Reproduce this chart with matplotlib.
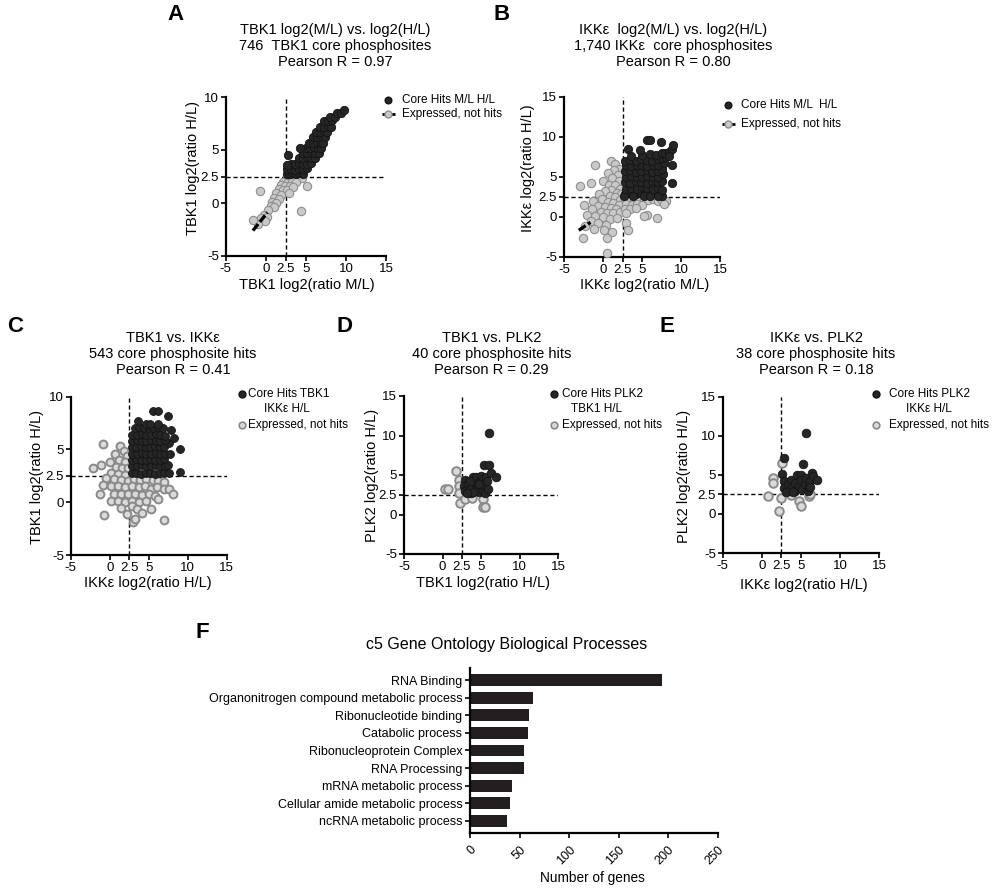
import numpy as np
import matplotlib
matplotlib.use('Agg')
import matplotlib.pyplot as plt
from matplotlib.lines import Line2D

plt.rcParams['font.family'] = ['Liberation Sans', 'DejaVu Sans']
plt.rcParams['axes.unicode_minus'] = False

W, H = 996, 891

# ---- panel A: TBK1 M/L vs H/L ----
a_hits = [(2.6, 2.7), (3.0, 2.7), (3.4, 2.8), (3.8, 2.7), (4.2, 2.8), (4.6, 2.7),
          (2.7, 3.2), (3.2, 3.2), (3.7, 3.1), (4.2, 3.2), (4.7, 3.2), (5.1, 3.3),
          (3.2, 3.7), (3.7, 3.7), (4.2, 3.8), (4.7, 3.7), (5.2, 3.7), (5.6, 3.8),
          (4.2, 4.2), (4.7, 4.2), (5.2, 4.3), (5.7, 4.2), (6.1, 4.2),
          (4.6, 4.7), (5.1, 4.7), (5.6, 4.8), (6.1, 4.7), (6.6, 4.7),
          (5.0, 5.2), (5.5, 5.2), (6.0, 5.3), (6.5, 5.2), (6.9, 5.2),
          (5.4, 5.7), (5.9, 5.7), (6.4, 5.8), (6.9, 5.7), (7.2, 5.7),
          (5.9, 6.2), (6.4, 6.2), (6.9, 6.3), (7.4, 6.2),
          (6.3, 6.7), (6.8, 6.7), (7.3, 6.8), (7.7, 6.7),
          (6.8, 7.2), (7.3, 7.2), (7.8, 7.3), (8.1, 7.2),
          (7.3, 7.7), (7.8, 7.7), (8.3, 7.8), (8.0, 8.1), (8.6, 8.1),
          (8.9, 8.5), (9.4, 8.5), (9.7, 8.8), (2.8, 4.5), (4.3, 5.2), (2.6, 3.6)]
a_other = [(2.6, 2.3), (3.0, 2.3), (3.5, 2.4), (4.0, 2.4), (4.5, 2.4), (2.2, 2.0),
           (2.7, 1.9), (3.3, 2.0), (3.8, 2.0), (1.9, 1.7), (2.4, 1.6), (3.0, 1.6),
           (1.6, 1.3), (2.1, 1.2), (2.7, 1.2), (1.3, 0.9), (1.9, 0.8), (1.0, 0.5),
           (1.6, 0.4), (0.8, 0.1), (1.3, 0.0), (0.6, -0.3), (1.0, -0.4), (0.3, -0.7),
           (-0.2, -1.1), (0.1, -1.3), (-0.6, -1.4), (-0.1, -1.7), (-1.0, -2.0),
           (-1.6, -1.6), (-0.7, 1.1), (5.2, 1.6), (4.4, -0.8), (3.4, 1.5), (2.9, 0.9)]
a_fit = [(-1.6, -2.6), (0.2, -0.9)]

# ---- panel B: IKKe M/L vs H/L ----
b_hits = [(2.8, 2.8), (3.5, 2.9), (4.2, 2.8), (4.9, 2.9), (5.6, 2.8), (6.3, 2.9), (7.0, 2.9),
          (7.5, 2.6), (7.0, 2.6), (2.7, 2.6), (3.9, 2.6), (5.2, 2.6), (6.0, 2.6),
          (2.9, 3.5), (3.6, 3.6), (4.3, 3.5), (5.0, 3.7), (5.7, 3.6), (6.4, 3.5), (7.1, 3.6), (7.6, 3.3),
          (2.8, 4.3), (3.5, 4.2), (4.2, 4.4), (4.9, 4.3), (5.6, 4.2), (6.3, 4.4), (7.0, 4.3), (7.6, 4.5),
          (8.8, 4.25),
          (2.9, 5.0), (3.6, 5.1), (4.3, 4.9), (5.0, 5.0), (5.7, 5.1), (6.4, 4.9), (7.1, 5.0), (7.7, 5.3),
          (2.8, 5.7), (3.5, 5.8), (4.2, 5.6), (4.9, 5.7), (5.6, 5.8), (6.3, 5.6), (7.0, 5.7), (7.6, 6.0),
          (2.9, 6.4), (3.6, 6.3), (4.3, 6.5), (5.0, 6.4), (5.7, 6.3), (6.4, 6.5), (7.1, 6.4), (7.8, 6.7),
          (8.8, 6.4),
          (2.8, 7.0), (3.5, 7.1), (4.2, 7.0), (4.9, 7.2), (5.6, 7.1), (6.3, 7.0), (7.0, 7.2), (7.6, 7.3),
          (8.1, 7.4), (3.6, 7.6), (5.0, 7.7), (6.0, 7.8), (6.8, 7.7), (7.5, 7.9), (8.0, 7.9), (8.4, 8.1),
          (8.8, 8.5), (9.0, 8.9), (8.5, 7.6), (3.2, 8.5), (4.7, 8.3), (5.6, 9.6), (6.0, 9.6), (7.4, 9.3)]
b_other = [(-1.0, 6.5), (1.0, 6.9), (1.6, 6.6), (2.0, 6.0), (1.4, 5.8), (0.6, 5.4), (1.9, 5.2),
           (1.2, 4.8), (0.0, 4.4), (2.1, 4.4), (-1.6, 4.2), (-3.0, 3.8), (0.8, 4.0), (1.6, 3.9),
           (2.2, 3.5), (1.0, 3.3), (0.3, 3.2), (1.8, 3.0), (-0.5, 2.8), (2.3, 2.8), (0.9, 2.6),
           (1.6, 2.4), (-0.1, 2.2), (2.2, 2.1), (-1.3, 1.9), (0.6, 1.8), (1.3, 1.7), (-2.5, 1.5),
           (2.0, 1.5), (-0.6, 1.3), (0.2, 1.2), (1.0, 1.1), (1.7, 0.9), (-1.4, 0.9), (-0.3, 0.6),
           (0.5, 0.5), (1.3, 0.4), (2.2, 0.6), (-2.0, 0.2), (-1.0, 0.1), (0.0, -0.1), (0.9, -0.3),
           (1.8, -0.2), (-1.6, -0.6), (-0.6, -0.8), (0.4, -1.0), (-2.3, -1.2), (-1.2, -1.5),
           (0.1, -1.7), (1.2, -1.9), (-2.6, -2.7), (0.5, -2.7), (0.5, -4.6), (3.0, -0.8), (3.2, -1.7),
           (2.8, 2.2), (3.4, 2.1), (4.0, 2.2), (4.6, 2.1), (5.2, 2.2), (5.8, 2.1), (6.4, 2.2),
           (7.0, 2.0), (7.6, 2.1), (8.1, 2.0), (7.8, 1.6), (3.0, 1.6), (3.7, 1.5), (4.4, 1.6),
           (5.0, 1.5), (2.8, 1.0), (3.5, 0.9), (4.2, 1.1), (3.0, 0.4), (5.6, 0.2), (6.9, -0.2), (5.3, 0.1)]
b_fit = [(-3.1, -1.7), (-1.6, -0.7)]

# ---- panel C: TBK1 vs IKKe ----
c_hits = [(2.8, 2.8), (3.4, 2.8), (4.0, 2.7), (4.6, 2.8), (5.2, 2.8), (5.8, 2.7), (6.4, 2.8), (7.0, 2.8), (7.6, 2.8),
          (2.9, 3.4), (3.5, 3.4), (4.1, 3.5), (4.7, 3.4), (5.3, 3.4), (5.9, 3.5), (6.5, 3.4), (7.1, 3.4), (7.5, 3.5),
          (2.8, 4.0), (3.4, 4.1), (4.0, 4.0), (4.6, 4.0), (5.2, 4.1), (5.8, 4.0), (6.4, 4.0), (7.0, 4.1),
          (2.9, 4.6), (3.5, 4.6), (4.1, 4.7), (4.7, 4.6), (5.3, 4.6), (5.9, 4.7), (6.5, 4.6), (7.1, 4.6), (7.7, 4.6),
          (2.8, 5.2), (3.4, 5.2), (4.0, 5.3), (4.6, 5.2), (5.2, 5.2), (5.8, 5.3), (6.4, 5.2), (7.0, 5.2), (7.6, 5.6),
          (2.9, 5.8), (3.5, 5.9), (4.1, 5.8), (4.7, 5.8), (5.3, 5.9), (5.9, 5.8), (6.5, 5.8), (7.1, 5.9), (8.2, 6.1),
          (2.9, 6.4), (3.5, 6.4), (4.1, 6.5), (4.7, 6.4), (5.3, 6.4), (5.9, 6.5), (6.5, 6.4), (7.1, 6.3), (7.8, 6.8),
          (3.2, 7.0), (3.8, 7.1), (4.4, 7.0), (5.0, 7.1), (5.6, 7.0), (6.2, 7.1), (6.8, 7.0),
          (3.6, 7.7), (4.6, 7.4), (5.2, 7.4), (6.2, 7.4), (7.5, 8.2), (5.5, 8.6), (6.2, 8.6),
          (9.0, 5.0), (9.0, 2.85)]
c_other = [(-0.8, 5.5), (-2.2, 3.2), (-1.1, 3.5), (0.0, 3.8), (0.7, 4.6), (1.3, 5.3), (1.8, 4.9),
           (2.2, 4.4), (1.2, 4.0), (2.0, 3.8), (0.8, 3.3), (1.6, 3.2), (2.3, 3.2), (0.2, 2.8),
           (1.1, 2.7), (1.9, 2.6), (-0.5, 2.3), (0.5, 2.2), (1.4, 2.1), (2.3, 2.0), (3.1, 2.2),
           (3.9, 2.1), (4.7, 2.2), (5.5, 2.1), (6.2, 2.0), (7.0, 1.9), (-0.9, 1.6), (0.2, 1.5),
           (1.1, 1.5), (2.0, 1.4), (2.9, 1.5), (3.7, 1.4), (4.5, 1.5), (5.3, 1.3), (6.1, 1.4),
           (6.9, 1.3), (7.6, 1.3), (-1.2, 0.8), (0.6, 0.8), (1.5, 0.8), (2.4, 0.8), (3.3, 0.8),
           (4.1, 0.7), (5.0, 0.8), (5.8, 0.6), (8.1, 0.8), (0.2, 0.1), (1.1, 0.1), (2.0, 0.0),
           (2.9, 0.1), (3.8, 0.0), (4.7, 0.1), (6.2, 0.3), (1.5, -0.5), (2.8, -0.4), (3.5, -0.6),
           (5.3, -0.6), (-0.7, -1.2), (3.0, -1.9), (3.3, -1.6), (6.9, -1.7), (4.1, -1.0), (2.2, -1.1)]

# ---- panel D: TBK1 vs PLK2 ----
d_hits = [(2.9, 4.4), (2.8, 3.6), (2.9, 3.0), (3.3, 3.8), (3.4, 3.1), (3.7, 2.7), (3.8, 3.5),
          (3.9, 4.8), (4.2, 3.1), (4.3, 4.0), (4.4, 4.8), (4.6, 3.5), (4.8, 2.9), (4.9, 4.2),
          (5.0, 4.9), (5.1, 3.6), (5.3, 3.0), (5.3, 4.5), (5.5, 2.7), (5.4, 3.9), (5.6, 4.7),
          (4.0, 2.9), (3.2, 2.7), (4.7, 3.9), (5.9, 3.2), (5.4, 6.3), (6.1, 6.3), (6.3, 5.2),
          (6.9, 4.8), (6.0, 10.3), (5.8, 4.2), (3.6, 4.2)]
d_other = [(0.35, 3.2), (0.65, 3.2), (1.75, 5.5), (2.2, 4.4), (2.2, 3.6), (2.2, 2.7), (2.3, 1.4),
           (2.9, 2.0), (3.8, 2.1), (5.3, 2.0), (5.2, 0.9), (5.5, 0.9)]

# ---- panel E: IKKe vs PLK2 ----
e_hits = [(2.9, 7.2), (2.6, 5.1), (2.8, 4.2), (2.9, 3.3), (3.3, 3.8), (3.5, 2.9), (3.7, 4.4),
          (3.9, 3.4), (4.2, 4.0), (4.3, 2.9), (4.5, 5.0), (4.7, 3.6), (5.0, 5.0), (5.0, 4.3),
          (5.2, 3.2), (5.5, 3.8), (5.6, 4.6), (5.9, 2.9), (6.0, 3.5), (6.2, 4.2), (6.4, 5.3),
          (6.6, 4.8), (7.1, 4.4), (5.3, 6.4), (5.7, 10.4), (6.2, 3.4), (3.1, 2.8), (4.0, 2.8)]
e_other = [(2.6, 6.5), (1.5, 4.6), (1.5, 3.9), (0.75, 2.3), (2.5, 2.0), (2.2, 0.4), (3.7, 2.4),
           (4.8, 1.6), (5.0, 1.0), (6.1, 2.3), (6.2, 2.6)]

# ---- panel F: GO terms ----
go_terms = ['RNA Binding', 'Organonitrogen compound metabolic process', 'Ribonucleotide binding',
            'Catabolic process', 'Ribonucleoprotein Complex', 'RNA Processing',
            'mRNA metabolic process', 'Cellular amide metabolic process', 'ncRNA metabolic process']
go_counts = [194, 64, 60, 59, 54, 54, 42, 40, 37]

fig = plt.figure(figsize=(W / 100, H / 100), dpi=100)


def add_ax(l, t, r, b):
    return fig.add_axes([l / W, 1 - b / H, (r - l) / W, (b - t) / H])


def fxy(x, y):
    return x / W, 1 - y / H


def ftext(x, y, s, **kw):
    fig.text(*fxy(x, y), s, **kw)


def fmarker(x, y, **kw):
    fig.add_artist(Line2D([x / W], [1 - y / H], transform=fig.transFigure, **kw))


BLACK = dict(color='#262626', mec='#141414')
GRAY_AB = dict(fc='#c9c9c9', ec='#8f8f8f', lw=0.8)
GRAY_CDE = dict(fc='#dadada', ec='#8a8a8a', lw=1.4)


def scatter_panel(box, hits, others, ytop, gray, fit=None, size=34):
    ax = add_ax(*box)
    ox, oy = np.array(others).T
    hx, hy = np.array(hits).T
    ax.axvline(2.5, color='black', lw=1, ls=(0, (3, 2)), zorder=1)
    ax.axhline(2.5, color='black', lw=1, ls=(0, (3, 2)), zorder=1)
    ax.scatter(ox, oy, s=size, c=gray['fc'], edgecolors=gray['ec'], linewidths=gray['lw'], zorder=3)
    ax.scatter(hx, hy, s=size, c=BLACK['color'], edgecolors=BLACK['mec'], linewidths=0.6, zorder=4)
    if fit is not None:
        fx, fy = np.array(fit).T
        ax.plot(fx, fy, color='black', lw=2.4, ls=(0, (2.5, 0.8)), zorder=3.5)
    ax.set_xlim(-5, 15)
    ax.set_ylim(-5, ytop)
    ax.set_xticks([-5, 0, 2.5, 5, 10, 15])
    ax.set_xticklabels(['-5', '0', '2.5', '5', '10', '15'])
    yt = [-5, 0, 2.5, 5, 10] + ([15] if ytop == 15 else [])
    ax.set_yticks(yt)
    ax.set_yticklabels(['%g' % v for v in yt])
    for s in ['top', 'right']:
        ax.spines[s].set_visible(False)
    for s in ['left', 'bottom']:
        ax.spines[s].set_linewidth(1.6)
    ax.tick_params(direction='out', length=3.5, width=1.2, labelsize=9.5, pad=1.5)
    ax.patch.set_alpha(0)
    return ax


# panel A
scatter_panel((225.7, 97, 386, 256), a_hits, a_other, 10, GRAY_AB, fit=a_fit, size=36)
ftext(175, 15, 'A', fontsize=16, fontweight='bold', ha='center', va='center')
ftext(335, 46, 'TBK1 log2(M/L) vs. log2(H/L)\n746  TBK1 core phosphosites\nPearson R = 0.97',
      fontsize=10.5, ha='center', va='center', linespacing=1.2)
ftext(307, 285, 'TBK1 log2(ratio M/L)', fontsize=10.5, ha='center', va='center')
ftext(193, 168, 'TBK1 log2(ratio H/L)', fontsize=10.5, ha='center', va='center', rotation=90)

# panel B
scatter_panel((564, 96.7, 720, 256.7), b_hits, b_other, 15, GRAY_AB, fit=b_fit, size=36)
ftext(502, 15, 'B', fontsize=16, fontweight='bold', ha='center', va='center')
ftext(673, 46, 'IKKε  log2(M/L) vs. log2(H/L)\n1,740 IKKε  core phosphosites\nPearson R = 0.80',
      fontsize=10.5, ha='center', va='center', linespacing=1.2)
ftext(645, 285, 'IKKε log2(ratio M/L)', fontsize=10.5, ha='center', va='center')
ftext(528, 168, 'IKKε log2(ratio H/L)', fontsize=10.5, ha='center', va='center', rotation=90)

# legends A and B (hits / not hits with fit line)
for (mx, y1, y2, tx, lab) in [(388, 100, 113.5, 402, 'Core Hits M/L H/L'),
                              (728, 105, 124, 740.5, 'Core Hits M/L  H/L')]:
    fmarker(mx, y1, marker='o', ms=4.8, mfc=BLACK['color'], mec=BLACK['mec'], ls='none')
    ftext(tx, y1, lab, fontsize=8.5, ha='left', va='center')
    fig.add_artist(Line2D([(mx - 6) / W, (mx + 7) / W], [1 - y2 / H] * 2, transform=fig.transFigure,
                          color='black', lw=2, ls=(0, (2, 1))))
    fmarker(mx, y2, marker='o', ms=5, mfc=GRAY_AB['fc'], mec=GRAY_AB['ec'], ls='none')
    ftext(tx, y2, 'Expressed, not hits', fontsize=8.5, ha='left', va='center')

# panels C, D, E
cde = [
    ((70.7, 396.7, 226.7, 555), c_hits, c_other, 10, 'C', 15, 173,
     'TBK1 vs. IKKε\n543 core phosphosite hits\nPearson R = 0.41',
     'IKKε log2(ratio H/L)', (148.3, 583.3), 'TBK1 log2(ratio H/L)', (36.7, 477),
     (241.7, 248.3, 'Core Hits TBK1', 286.7, 'IKKε H/L'), 32),
    ((404, 396, 558, 554), d_hits, d_other, 15, 'D', 345, 491.7,
     'TBK1 vs. PLK2\n40 core phosphosite hits\nPearson R = 0.29',
     'TBK1 log2(ratio H/L)', (483.3, 583.3), 'PLK2 log2(ratio H/L)', (371.7, 475),
     (554, 561.7, 'Core Hits PLK2', 596.7, 'TBK1 H/L'), 38),
    ((722.7, 396.7, 879, 553), e_hits, e_other, 15, 'E', 667, 816,
     'IKKε vs. PLK2\n38 core phosphosite hits\nPearson R = 0.18',
     'IKKε log2(ratio H/L)', (804.3, 585), 'PLK2 log2(ratio H/L)', (684.3, 476.7),
     (876, 889, 'Core Hits PLK2', 928.7, 'IKKε H/L'), 38),
]
for (box, hits, others, ytop, letter, lx, tx, title, xl, xlp, yl, ylp, leg, size) in cde:
    scatter_panel(box, hits, others, ytop, GRAY_CDE, size=size)
    ftext(lx, 327, letter, fontsize=16, fontweight='bold', ha='center', va='center')
    ftext(tx, 354, title, fontsize=10.5, ha='center', va='center', linespacing=1.2)
    ftext(*xlp, xl, fontsize=10.5, ha='center', va='center')
    ftext(*ylp, yl, fontsize=10.5, ha='center', va='center', rotation=90)
    mx, txl, l1, cx2, l2 = leg
    fmarker(mx, 394.3, marker='o', ms=5, mfc=BLACK['color'], mec=BLACK['mec'], ls='none')
    ftext(txl, 394.3, l1, fontsize=8.5, ha='left', va='center')
    ftext(cx2, 409.3, l2, fontsize=8.5, ha='center', va='center')
    fmarker(mx, 425, marker='o', ms=4.8, mfc=GRAY_CDE['fc'], mec=GRAY_CDE['ec'], mew=1.2, ls='none')
    ftext(txl, 425, 'Expressed, not hits', fontsize=8.5, ha='left', va='center')

# panel F
axf = add_ax(470, 668, 717.7, 833)
ypos = np.arange(len(go_terms))
axf.barh(ypos, go_counts, height=0.68, color='#231f20', zorder=2)
axf.set_ylim(len(go_terms) - 0.3, -0.7)
axf.set_xlim(0, 250)
axf.set_yticks(ypos)
axf.set_yticklabels(go_terms, fontsize=9)
axf.set_xticks([0, 50, 100, 150, 200, 250])
axf.set_xticklabels(['0', '50', '100', '150', '200', '250'], rotation=45, ha='right', va='top',
                    rotation_mode='anchor', fontsize=9)
for s in ['top', 'right']:
    axf.spines[s].set_visible(False)
for s in ['left', 'bottom']:
    axf.spines[s].set_linewidth(1.6)
axf.tick_params(direction='out', length=3.5, width=1.2, pad=2)
axf.tick_params(axis='x', pad=4)
ftext(202, 633, 'F', fontsize=16, fontweight='bold', ha='center', va='center')
ftext(507, 645, 'c5 Gene Ontology Biological Processes', fontsize=11.5, ha='center', va='center')
ftext(592, 878, 'Number of genes', fontsize=9.8, ha='center', va='center')

fig.savefig('out.png', dpi=100)
